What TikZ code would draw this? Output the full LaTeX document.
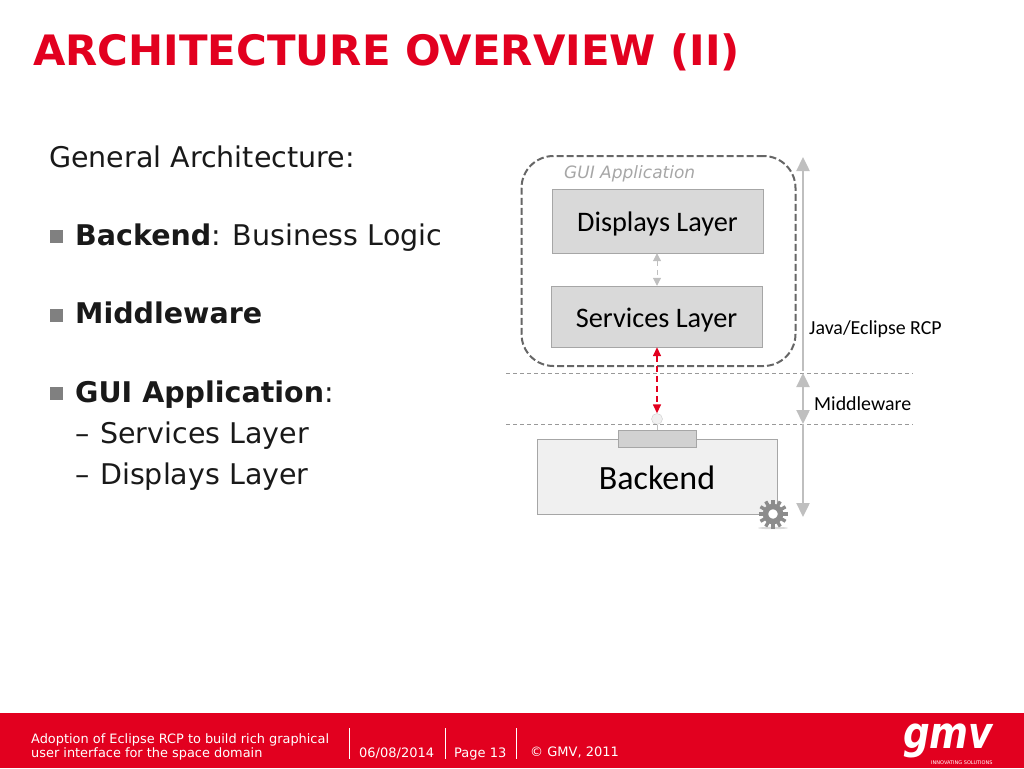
\documentclass[tikz,border=0pt]{standalone}
\usepackage{fontspec}
\setmainfont{DejaVu Sans}
\newfontfamily\carlito{Carlito}
\usepackage{xcolor}
\usetikzlibrary{arrows.meta}
\definecolor{gmvred}{HTML}{E2001F}
\definecolor{boxgray}{HTML}{D9D9D9}
\definecolor{axisgray}{HTML}{BFBFBF}
\definecolor{geargray}{HTML}{8C8C8C}

\begin{document}
\begin{tikzpicture}[x=1pt, y=-1pt,
    title/.style={anchor=base west, inner sep=0pt, text=gmvred, font=\fontsize{41.9}{50}\selectfont\bfseries},
    body/.style={anchor=base west, inner sep=0pt, text=black!90, font=\fontsize{28.5}{34}\selectfont},
    bullet/.style={rectangle, fill=black!50, minimum size=13pt, inner sep=0pt},
    layer/.style={rectangle, draw=black!35, fill=boxgray, inner sep=0pt},
    layertext/.style={inner sep=0pt, anchor=base, font=\fontsize{28.3}{34}\selectfont\carlito},
    small/.style={anchor=base west, inner sep=0pt, font=\fontsize{19.9}{24}\selectfont\carlito},
    foot/.style={anchor=base west, inner sep=0pt, text=white, font=\fontsize{13}{14}\selectfont},
    axis/.style={draw=axisgray, line width=2.4pt, -{Triangle[width=13pt,length=14pt]}},
    sep/.style={draw=black!40, dash pattern=on 4pt off 3pt, line width=0.7pt},
    footsep/.style={draw=white, line width=0.6pt}]

    \useasboundingbox (0,0) rectangle (1024,768);

    % Title and left column
    \node[title] (title) at (33,66) {ARCHITECTURE OVERVIEW (II)};
    \node[body] (general) at (49,167) {General Architecture:};
    \node[bullet] (b1) at (56.5,236.5) {};
    \node[body] (backend text) at (75,245) {\textbf{Backend}: Business Logic};
    \node[bullet] (b2) at (56.5,315) {};
    \node[body] (middleware text) at (75,323) {\textbf{Middleware}};
    \node[bullet] (b3) at (56.5,393) {};
    \node[body] (gui text) at (75,402) {\textbf{GUI Application}:};
    \node[body] (services dash) at (75,443) {–};
    \node[body] (services text) at (100,443) {Services Layer};
    \node[body] (displays dash) at (75,484) {–};
    \node[body] (displays text) at (100,484) {Displays Layer};

    % GUI Application
    \node[draw=black!60, dash pattern=on 7pt off 3pt, line width=2pt, rounded corners=32pt, minimum width=274pt, minimum height=210pt, inner sep=0pt] (gui) at (658.5,261) {};
    \node[anchor=base west, inner sep=0pt, text=black!35, font=\fontsize{17}{20}\selectfont\itshape] (gui label) at (564,178) {GUI Application};
    \node[layer, minimum width=211pt, minimum height=64pt] (displays) at (657.5,221) {};
    \node[layertext] (displays label) at (657.5,231) {Displays Layer};
    \node[layer, minimum width=211pt, minimum height=61pt] (services) at (656.5,316.5) {};
    \node[layertext] (services label) at (656.5,327) {Services Layer};

    % Backend
    \node[rectangle, draw=black!35, fill=black!6, minimum width=240pt, minimum height=75pt, inner sep=0pt] (backend) at (657,476.5) {};
    \node[layertext, font=\fontsize{34}{40}\selectfont\carlito] (backend label) at (657,489) {Backend};
    \node[rectangle, draw=black!35, fill=black!18, minimum width=78pt, minimum height=17pt, inner sep=0pt] (port) at (657,438.5) {};
    \node[circle, draw=black!20, fill=black!6, minimum size=11pt, inner sep=0pt] (socket) at (657,419) {};
    \draw[black!25, line width=0.8pt] (socket) -- (port);

    % Gear
    \fill[black!15] (773,528) ellipse (15 and 1.2);
    \foreach \a in {0,30,...,330} {
        \draw[geargray, line width=3.4pt] (773,514) ++(\a:9) -- ++(\a:5.5);
    }
    \node[circle, draw=geargray, line width=5.5pt, fill=white, minimum size=15pt, inner sep=0pt] (gear) at (773,514) {};

    % Separators
    \coordinate (s1l) at (506,373);
    \coordinate (s1r) at (913,373);
    \coordinate (s2l) at (506,424);
    \coordinate (s2r) at (913,424);
    \draw[sep] (s1l) -- (s1r);
    \draw[sep] (s2l) -- (s2r);

    % Layer arrows
    \draw[black!25, line width=1pt, dash pattern=on 5pt off 4pt, {Triangle[width=8pt,length=8pt]}-{Triangle[width=8pt,length=8pt]}] (displays.south -| socket) -- (services.north -| socket);
    \draw[gmvred, line width=1.5pt, dash pattern=on 6pt off 4pt, {Triangle[width=8pt,length=9pt]}-{Triangle[width=8pt,length=9pt]}] (services.south -| socket) -- (socket.north);

    % Axis
    \coordinate (a0) at (803,157);
    \coordinate (a1) at (803,371);
    \coordinate (a2) at (803,373);
    \coordinate (a3) at (803,424);
    \coordinate (a4) at (803,517);
    \draw[axis] (a1) -- (a0);
    \draw[axis, {Triangle[width=13pt,length=14pt]}-{Triangle[width=13pt,length=14pt]}] (a2) -- (a3);
    \draw[axis] (a3) -- (a4);
    \node[small] (java) at (809,334) {Java/Eclipse RCP};
    \node[small] (mid) at (814,410) {Middleware};

    % Footer
    \fill[gmvred] (0,713) rectangle (1024,768);
    \node[foot, font=\fontsize{12.9}{14}\selectfont] (f1) at (31,743) {Adoption of Eclipse RCP to build rich graphical};
    \node[foot, font=\fontsize{12.9}{14}\selectfont] (f2) at (31,757) {user interface for the space domain};
    \node[foot] (f3) at (359,757) {06/08/2014};
    \node[foot] (f4) at (454,757) {Page 13};
    \node[foot] (f5) at (530,756) {© GMV, 2011};
    \draw[footsep] (349,728) -- (349,759);
    \draw[footsep] (445,728) -- (445,759);
    \draw[footsep] (516.5,728) -- (516.5,759);

    % Logo
    \node[anchor=base west, inner sep=0pt, text=white, xscale=0.85, transform shape, font=\fontsize{44}{44}\selectfont\bfseries\itshape] (logo) at (903,748) {gmv};
    \node[anchor=base west, inner sep=0pt, text=white, font=\fontsize{5}{6}\selectfont] (slogan) at (931,764) {INNOVATING SOLUTIONS};

\end{tikzpicture}
\end{document}
